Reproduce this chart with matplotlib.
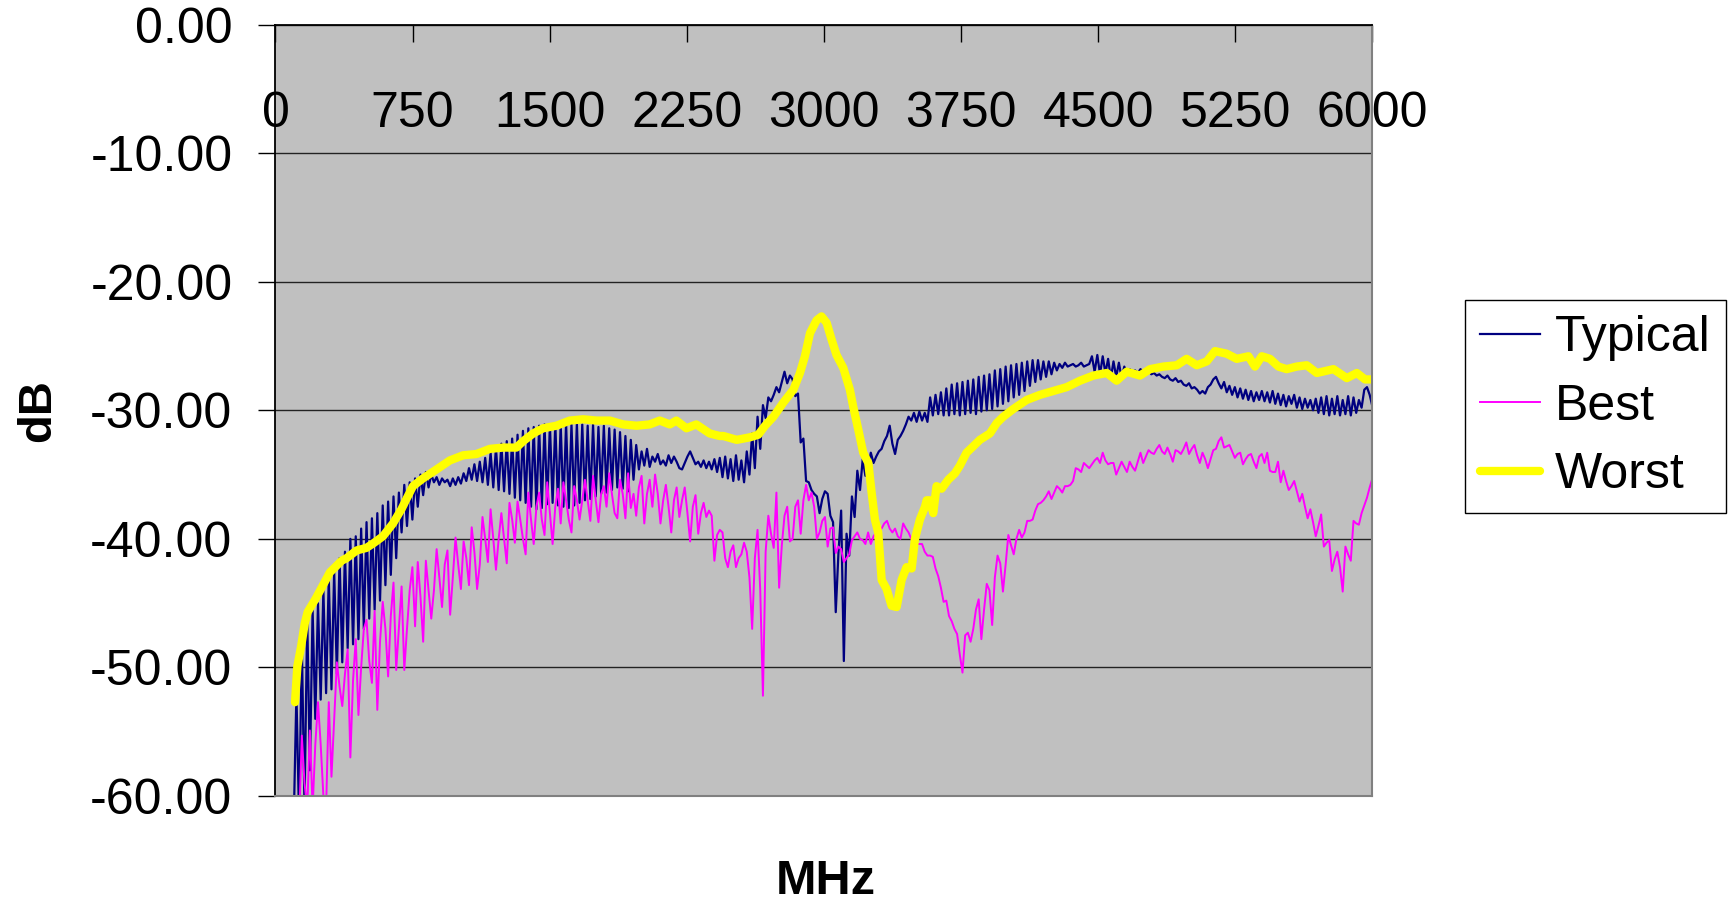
import numpy as np
import matplotlib.pyplot as plt
from matplotlib.ticker import FormatStrFormatter

plt.rcParams['font.family'] = ['Liberation Sans', 'DejaVu Sans']

# Sweep: 401 points, 100 .. 6000 MHz (Typical and Best share it)
f_start, f_stop, n_pts = 100, 6000, 401

typical = [
    -62, -52, -62, -48, -61, -46, -58, -45.5, -54, -45, -52.5, -44, -52, -43, -51.7, -42.5, -50.5, -41.5, -49.6, -41,
    -48.5, -40.0, -48.2, -39.8, -47.8, -39.2, -47.0, -38.7, -46.2, -38.4, -45.5, -38.0, -44.8, -37.4, -43.6, -37.1, -42.8, -36.7, -41.5, -36.4,
    -39.5, -35.8, -39.0, -35.6, -38.5, -35.3, -37.5, -35.0, -36.6, -34.8, -36.0, -35.0, -35.6, -35.2, -35.8, -35.3, -35.6, -35.4, -35.9, -35.3,
    -35.8, -35.2, -35.7, -34.9, -35.5, -34.5, -35.4, -34.2, -35.5, -34.0, -35.6, -33.7, -35.8, -33.3, -36.0, -32.9, -36.2, -32.6, -36.3, -32.4,
    -36.5, -32.2, -36.8, -31.9, -37.0, -31.6, -37.2, -31.4, -37.5, -31.3, -37.7, -31.2, -37.6, -31.1, -37.3, -31.1, -37.2, -31.0, -37.4, -31.1,
    -37.5, -31.0, -37.6, -31.1, -37.4, -31.0, -37.2, -31.1, -37.0, -31.2, -36.9, -31.1, -36.7, -31.3, -36.5, -31.2, -36.4, -31.4, -36.2, -31.5,
    -36.0, -31.7, -36.1, -32.0, -36.3, -32.3, -35.4, -32.7, -34.6, -33.2, -34.3, -33.0, -34.4, -33.6, -34.0, -33.4, -34.2, -33.9, -34.3, -33.5,
    -34.1, -33.6, -34.0, -34.5, -34.6, -34.1, -33.6, -33.2, -33.7, -34.2, -34.0, -34.4, -33.9, -34.5, -34.0, -34.6, -33.8, -34.8, -33.7, -35.2,
    -33.6, -35.3, -33.8, -35.5, -33.5, -35.4, -33.9, -35.6, -33.2, -35.0, -31.8, -34.5, -30.5, -33.0, -29.6, -30.6, -29.0, -29.3, -28.8, -28.2,
    -28.6, -27.8, -27.0, -27.9, -27.3, -27.6, -28.9, -28.7, -32.5, -32.2, -35.5, -35.6, -36.2, -36.5, -36.7, -38.0, -36.9, -36.3, -36.5, -38.2,
    -38.7, -45.7, -41.1, -37.8, -49.5, -39.6, -41.3, -36.7, -38.3, -34.7, -36.2, -33.8, -35.1, -34.6, -33.3, -34.1, -33.6, -33.2, -33.0, -32.4,
    -32.0, -31.2, -32.6, -33.4, -32.3, -32.0, -31.6, -31.1, -30.5, -30.8, -30.2, -30.9, -30.1, -30.8, -30.2, -30.9, -29.0, -30.4, -28.8, -30.3,
    -28.6, -30.4, -28.3, -30.4, -28.0, -30.3, -27.9, -30.4, -27.8, -30.3, -27.7, -30.2, -27.6, -30.3, -27.4, -30.1, -27.3, -30.0, -27.2, -29.9,
    -26.9, -29.7, -26.8, -29.5, -26.6, -29.3, -26.5, -29.0, -26.4, -28.8, -26.3, -28.5, -26.2, -28.1, -26.1, -27.8, -26.1, -27.6, -26.2, -27.4,
    -26.2, -27.2, -26.3, -26.9, -26.4, -26.7, -26.3, -26.6, -26.5, -26.4, -26.6, -26.5, -26.3, -26.6, -26.5, -26.4, -25.8, -27.0, -25.7, -27.2,
    -25.8, -27.1, -26.0, -27.5, -26.2, -27.4, -26.3, -27.5, -26.6, -27.2, -26.8, -27.0, -26.9, -27.1, -26.8, -27.0, -27.0, -26.9, -27.2, -27.1,
    -27.3, -27.2, -27.4, -27.5, -27.3, -27.6, -27.7, -27.5, -27.8, -27.7, -28.0, -28.1, -27.9, -28.3, -28.2, -28.4, -28.7, -28.5, -28.7, -28.2,
    -28.0, -27.6, -27.4, -27.9, -28.3, -27.8, -28.6, -28.1, -28.8, -28.2, -29.0, -28.3, -29.1, -28.4, -29.2, -28.5, -29.3, -28.6, -29.2, -28.5,
    -29.3, -28.6, -29.4, -28.5, -29.5, -28.7, -29.6, -28.8, -29.7, -28.9, -29.5, -28.8, -29.8, -29.0, -29.9, -29.1, -29.8, -29.2, -30.0, -29.1,
    -30.2, -29.0, -30.3, -28.9, -30.4, -29.1, -30.3, -28.9, -30.4, -29.2, -30.3, -28.9, -30.4, -29.0, -30.2, -29.2, -29.8, -28.4, -28.2, -28.8,
    -29.7,
]

best = [
    -64, -64, -62, -55.3, -59, -61, -54.9, -61, -56, -52.7, -56, -60, -61, -52.7, -58.5, -54, -49.6, -51.5, -53, -50.5,
    -48.6, -57.0, -51.0, -47.8, -53.7, -50.0, -47.0, -46.3, -49.5, -51.2, -45.6, -53.3, -48.0, -44.9, -47.0, -50.7, -46.0, -43.4, -50.2, -47.0,
    -43.7, -50.2, -47.0, -44.0, -42.2, -46.8, -41.8, -44.5, -48.0, -41.7, -44.0, -46.2, -44.0, -40.8, -43.0, -45.3, -42.0, -40.9, -45.9, -43.0,
    -39.9, -42.0, -43.9, -40.2, -41.5, -43.6, -39.1, -41.0, -43.9, -42.0, -38.3, -40.0, -41.8, -37.7, -40.0, -42.4, -40.0, -38.0, -40.0, -41.9,
    -37.2, -38.5, -40.3, -37.1, -38.5, -40.0, -41.2, -36.4, -38.5, -40.4, -37.5, -36.4, -38.5, -39.7, -35.6, -38.0, -40.4, -37.5, -36.1, -38.8,
    -35.6, -37.0, -38.5, -39.5, -35.9, -37.0, -38.5, -37.0, -35.4, -37.0, -38.6, -35.1, -37.0, -38.7, -36.5, -35.9, -37.5, -34.9, -36.5, -38.0,
    -38.4, -35.4, -36.5, -38.4, -34.9, -37.6, -36.5, -38.2, -36.0, -35.1, -38.8, -36.5, -35.4, -37.5, -35.0, -36.5, -38.8, -37.0, -35.8, -37.5,
    -39.5, -37.0, -36.0, -38.3, -37.0, -36.0, -38.0, -40.2, -37.5, -36.6, -39.6, -38.0, -37.2, -38.3, -37.8, -38.2, -41.7, -39.7, -39.3, -39.5,
    -41.5, -42.2, -41.0, -40.5, -42.2, -41.5, -41.2, -40.3, -41.0, -43.0, -47.0, -41.5, -39.3, -44.0, -52.2, -41.0, -38.2, -39.6, -40.7, -36.4,
    -43.8, -40.5, -38.2, -37.5, -40.2, -40.0, -37.5, -37.0, -39.6, -37.0, -35.8, -37.0, -36.4, -37.5, -40.0, -39.5, -38.6, -38.3, -40.6, -39.2,
    -39.1, -41.1, -40.6, -40.8, -41.8, -41.5, -41.2, -40.1, -39.8, -39.5, -40.0, -40.1, -40.4, -39.5, -40.4, -39.8, -39.5, -39.3, -39.2, -38.8,
    -38.6, -39.2, -39.5, -39.2, -39.8, -40.0, -38.8, -39.2, -39.5, -40.0, -40.4, -40.4, -40.4, -40.4, -41.0, -41.3, -41.3, -41.4, -42.3, -42.9,
    -43.8, -44.9, -44.8, -46.0, -46.4, -47.0, -47.4, -49.0, -50.4, -47.5, -47.3, -48.0, -47.0, -45.5, -44.7, -47.8, -45.5, -43.5, -44.0, -46.7,
    -43.0, -41.3, -41.9, -44.1, -42.0, -39.7, -40.5, -41.2, -40.0, -39.3, -39.9, -39.5, -38.6, -38.6, -38.5, -37.8, -37.3, -37.2, -37.0, -36.7,
    -36.3, -36.9, -36.4, -35.9, -36.1, -36.4, -35.9, -35.9, -35.8, -35.5, -34.5, -34.6, -34.8, -34.1, -34.3, -34.5, -34.2, -33.9, -33.7, -34.1,
    -33.3, -33.9, -34.2, -34.1, -34.1, -35.0, -34.5, -34.0, -34.4, -34.8, -34.0, -34.4, -34.7, -34.0, -33.3, -34.1, -33.6, -33.1, -33.3, -33.4,
    -33.0, -32.7, -33.2, -33.4, -32.9, -33.4, -34.0, -33.1, -33.2, -33.4, -33.0, -32.5, -33.4, -33.0, -32.7, -33.5, -34.1, -33.3, -33.8, -34.5,
    -33.8, -33.1, -33.0, -32.4, -32.1, -32.9, -32.8, -32.7, -33.2, -33.7, -33.4, -33.3, -34.2, -33.8, -33.5, -33.4, -34.0, -34.5, -33.6, -33.4,
    -34.1, -33.3, -34.7, -34.8, -34.8, -34.0, -35.6, -34.7, -35.5, -36.2, -35.9, -35.5, -36.3, -37.1, -36.5, -37.5, -38.4, -37.7, -38.7, -39.8,
    -39.0, -38.1, -40.6, -40.3, -40.1, -42.5, -41.6, -41.0, -42.2, -44.1, -40.6, -41.2, -41.7, -38.6, -38.8, -38.9, -38.0, -37.4, -36.8, -36.0,
    -35.3,
]

# Worst is a smooth trace, read at its own frequencies
worst_mhz = [107, 120, 140, 160, 176, 222, 260, 298, 362, 389, 444, 498, 540, 588, 643, 689, 720, 752,
             807, 881, 954, 1027, 1100, 1173, 1246, 1318, 1355, 1410, 1464, 1537, 1610, 1683, 1756, 1829,
             1902, 1975, 2047, 2102, 2157, 2193, 2248, 2302, 2375, 2430, 2450, 2523, 2596, 2641, 2678,
             2724, 2778, 2833, 2869, 2896, 2924, 2960, 2987, 3015, 3042, 3069, 3106, 3142, 3160, 3188,
             3215, 3243, 3261, 3279, 3297, 3316, 3343, 3370, 3398, 3425, 3452, 3480, 3498, 3525, 3553,
             3562, 3580, 3598, 3616, 3644, 3680, 3717, 3744, 3780, 3817, 3853, 3908, 3945, 3981, 4036,
             4109, 4182, 4255, 4328, 4401, 4474, 4547, 4601, 4656, 4729, 4784, 4857, 4930, 4984, 5039,
             5094, 5139, 5203, 5258, 5322, 5358, 5395, 5440, 5486, 5531, 5586, 5641, 5696, 5787, 5860,
             5915, 5960, 6000]
worst_db = [-52.7, -49.9, -48.4, -46.6, -45.7, -44.6, -43.6, -42.6, -41.7, -41.5, -40.9, -40.7, -40.3, -39.8, -38.8, -37.7, -36.8, -35.9,
            -35.3, -34.6, -33.9, -33.5, -33.4, -33.0, -32.9, -32.9, -32.4, -31.8, -31.4, -31.2, -30.8, -30.7, -30.8, -30.8,
            -31.1, -31.2, -31.1, -30.8, -31.1, -30.8, -31.4, -31.1, -31.8, -32.0, -32.0, -32.3, -32.1, -31.9, -31.2,
            -30.5, -29.4, -28.4, -27.1, -25.8, -24.0, -23.0, -22.7, -23.2, -24.5, -25.7, -26.7, -28.4, -29.7, -31.5,
            -33.3, -34.1, -36.4, -38.5, -39.5, -43.2, -43.9, -45.2, -45.3, -43.2, -42.2, -42.3, -40.0, -38.5, -37.5,
            -37.0, -37.0, -38.0, -35.9, -36.1, -35.4, -34.9, -34.3, -33.3, -32.8, -32.3, -31.8, -31.0, -30.5, -29.9,
            -29.2, -28.8, -28.5, -28.2, -27.7, -27.3, -27.1, -27.7, -27.0, -27.3, -26.8, -26.6, -26.5, -26.0, -26.5,
            -26.2, -25.4, -25.6, -26.0, -25.8, -26.6, -25.8, -26.0, -26.6, -26.8, -26.6, -26.5, -27.1, -26.8, -27.5,
            -27.1, -27.6, -27.6]

x_ticks = [0, 750, 1500, 2250, 3000, 3750, 4500, 5250, 6000]
y_ticks = [-60, -50, -40, -30, -20, -10, 0]

freq = np.linspace(f_start, f_stop, n_pts)
FS = 36

fig = plt.figure(figsize=(17.28, 9.05), dpi=100)
ax = fig.add_axes([0.1594, 0.1204, 0.6348, 0.8525])
ax.set_facecolor('#c0c0c0')

ax.plot(freq, typical, color='#000080', lw=1.6, label='Typical')
ax.plot(freq, best, color='#ff00ff', lw=1.4, label='Best')
ax.plot(worst_mhz, worst_db, color='#ffff00', lw=6, label='Worst',
        solid_capstyle='round', solid_joinstyle='round')

ax.set_xlim(0, 6000)
ax.set_ylim(-60, 0)
ax.set_xticks(x_ticks)
ax.set_yticks(y_ticks)
ax.yaxis.set_major_formatter(FormatStrFormatter('%.2f'))
ax.grid(axis='y', color='#222222', lw=1)
ax.set_axisbelow(True)

ax.xaxis.set_ticks_position('top')
ax.tick_params(axis='x', direction='in', length=12, width=1, labelsize=FS,
               pad=-81, labeltop=True, labelbottom=False)
ax.tick_params(axis='y', direction='out', length=12, width=1, labelsize=FS, pad=19)

for s in ['left', 'top']:
    ax.spines[s].set_color('black')
    ax.spines[s].set_linewidth(1.3)
for s in ['right', 'bottom']:
    ax.spines[s].set_color('#808080')
    ax.spines[s].set_linewidth(1.5)

fig.text(0.0223, 0.546, 'dB', rotation=90, ha='center', va='center',
         fontsize=34, fontweight='bold')
fig.text(0.478, 0.0258, 'MHz', ha='center', va='center',
         fontsize=35, fontweight='bold')

leg = fig.legend(loc='upper left', bbox_to_anchor=(1465 / 1728, 1 - 300 / 905),
                 fontsize=FS, frameon=True, fancybox=False, framealpha=1,
                 edgecolor='black', borderaxespad=0, handlelength=1.2,
                 handletextpad=0.3, labelspacing=0.45, borderpad=0.3)
leg.get_frame().set_linewidth(1)

fig.savefig('out.png', dpi=100)
